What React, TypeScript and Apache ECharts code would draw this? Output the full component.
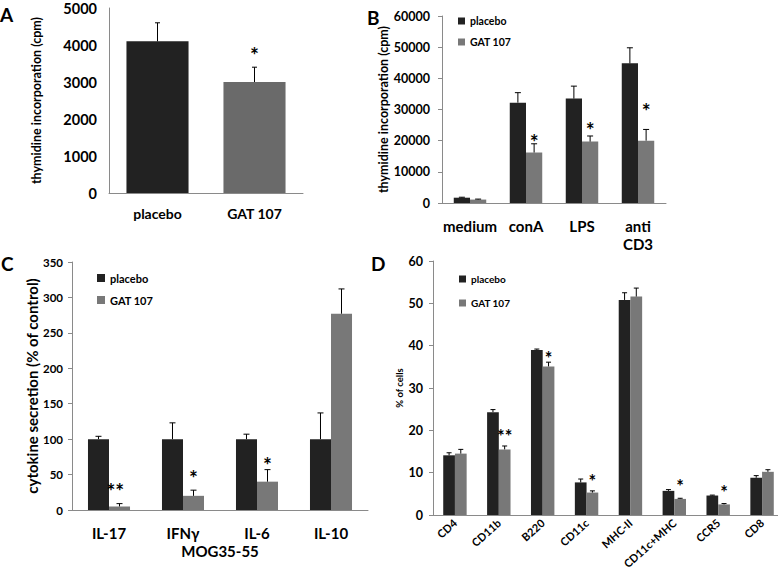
import React, { useEffect, useRef } from "react";
import * as echarts from "echarts";

// ---------- data ----------
const catsA = ["placebo", "GAT 107"];
const valsA = [4100, 3000];
const errA = [500, 400];
const starsA = [{ cat: 1, side: 0, y: 3870, text: "*" }];

const catsB = ["medium", "conA", "LPS", "anti\nCD3"];
const placeboB = [1700, 32200, 33500, 44800];
const placeboErrB = [150, 3200, 4000, 5000];
const gatB = [1100, 16200, 19700, 20000];
const gatErrB = [150, 2800, 1800, 3600];
const starsB = [
  { cat: 1, side: 1, y: 21200, text: "*" },
  { cat: 2, side: 1, y: 25000, text: "*" },
  { cat: 3, side: 1, y: 31100, text: "*" },
];

const catsC = ["IL-17", "IFNγ", "IL-6", "IL-10"];
const placeboC = [100, 100, 100, 100];
const placeboErrC = [4, 23, 7, 37];
const gatC = [5, 20, 40, 277];
const gatErrC = [4, 8, 17, 35];
const starsC = [
  { cat: 0, side: 0.6, y: 34, text: "**" },
  { cat: 1, side: 1, y: 53, text: "*" },
  { cat: 2, side: 1, y: 71, text: "*" },
];

const catsD = ["CD4", "CD11b", "B220", "CD11c", "MHC-II", "CD11c+MHC", "CCR5", "CD8"];
const placeboD = [14.1, 24.3, 39.0, 7.7, 50.8, 5.7, 4.6, 8.8];
const placeboErrD = [0.6, 0.6, 0.2, 0.8, 1.7, 0.3, 0.1, 0.5];
const gatD = [14.5, 15.5, 35.1, 5.3, 51.6, 3.8, 2.5, 10.2];
const gatErrD = [1.0, 0.8, 1.0, 0.4, 2.0, 0.15, 0.2, 0.5];
const starsD = [
  { cat: 1, side: 1, y: 19.6, text: "**" },
  { cat: 2, side: 1, y: 38.0, text: "*" },
  { cat: 3, side: 1, y: 8.9, text: "*" },
  { cat: 5, side: 1, y: 7.8, text: "*" },
  { cat: 6, side: 1, y: 6.4, text: "*" },
];

// ---------- styling ----------
const FONT = "Lato";
const DARK = "#222222";
const GREY = "#787878";
const GREY_A = "#6a6a6a";
const AXIS = "#8a8a8a";

function errRenderer(frac: number, cap: number) {
  return (params: any, api: any) => {
    const cat = api.value(0);
    const val = api.value(1);
    const err = api.value(2);
    const side = api.value(3);
    const base = api.coord([cat, val]);
    const top = api.coord([cat, val + err]);
    const cw = api.size([1, 0])[0];
    const x = base[0] + (side * cw * frac) / 2;
    const st = { stroke: "#000", lineWidth: 1 };
    return {
      type: "group",
      children: [
        { type: "line", shape: { x1: x, y1: base[1], x2: x, y2: top[1] }, style: st },
        { type: "line", shape: { x1: x - cap, y1: top[1], x2: x + cap, y2: top[1] }, style: st },
      ],
    };
  };
}

function starRenderer(frac: number, stars: any[], size: number) {
  return (params: any, api: any) => {
    const s = stars[params.dataIndex];
    const p = api.coord([s.cat, s.y]);
    const cw = api.size([1, 0])[0];
    const x = p[0] + (s.side * cw * frac) / 2;
    return {
      type: "text",
      x,
      y: p[1] + size * 0.22,
      style: {
        text: s.text,
        align: "center",
        verticalAlign: "middle",
        fontSize: size,
        fontWeight: "bold",
        fontFamily: FONT,
        fill: "#000",
      },
    };
  };
}

function errData(vals: number[], errs: number[], side: number) {
  return vals.map((v, i) => [i, v, errs[i], side]);
}

function yAxis(grid: number, max: number, interval: number, size: number, margin: number, ticks: boolean, name: string, nameSize: number, nameGap: number) {
  return {
    type: "value",
    gridIndex: grid,
    min: 0,
    max,
    interval,
    splitLine: { show: false },
    axisLine: { show: true, lineStyle: { color: AXIS, width: 1 } },
    axisTick: { show: ticks, length: 4, lineStyle: { color: AXIS } },
    axisLabel: {
      color: "#000",
      fontSize: size,
      fontWeight: "bold",
      fontFamily: FONT,
      margin,
      formatter: (v: number) => String(v),
    },
    name,
    nameLocation: "middle",
    nameGap,
    nameTextStyle: { color: "#000", fontSize: nameSize, fontWeight: "bold", fontFamily: FONT },
  };
}

function xAxis(grid: number, data: string[], size: number, margin: number, extra: any = {}) {
  return {
    type: "category",
    gridIndex: grid,
    data,
    axisLine: { show: true, lineStyle: { color: AXIS, width: 1 } },
    axisTick: { show: false },
    axisLabel: { color: "#000", fontSize: size, fontWeight: "bold", fontFamily: FONT, margin, interval: 0, lineHeight: 18, ...(extra.label || {}) },
  };
}

function legend(left: number, top: number, gap: number, size: number, icon: number) {
  return {
    data: ["placebo", "GAT 107"],
    orient: "vertical",
    left,
    top,
    itemGap: gap,
    itemWidth: icon,
    itemHeight: icon,
    itemTextGap: 3,
    icon: "rect",
    padding: 0,
    textStyle: { color: "#000", fontSize: size, fontWeight: "bold", fontFamily: FONT, lineHeight: 12 },
  };
}

const FR_A = 0.64;
const FR_B = 0.29;
const FR_C = 0.284;
const FR_D = 0.267;

function buildOption() {
  const letter = (t: string, x: number, y: number) => ({
    type: "text",
    x,
    y,
    style: { text: t, fontSize: 19, fontWeight: "bold", fontFamily: FONT, fill: "#000" },
  });
  const g = (left: number, top: number, width: number, height: number) => ({
    left,
    top,
    width,
    height,
    containLabel: false,
    outerBoundsMode: "none",
  });
  return {
    animation: false,
    backgroundColor: "#fff",
    textStyle: { fontFamily: FONT },
    grid: [g(109, 8, 194, 185), g(442, 16, 224, 187), g(72, 262, 296, 248), g(433, 261, 351, 254)],
    xAxis: [
      xAxis(0, catsA, 14, 11),
      xAxis(1, catsB, 15, 14),
      {
        ...xAxis(2, catsC, 15, 14),
        name: "MOG35-55",
        nameLocation: "middle",
        nameGap: 33,
        nameTextStyle: { color: "#000", fontSize: 15, fontWeight: "bold", fontFamily: FONT },
      },
      xAxis(3, catsD, 11, 6, { label: { rotate: 42 } }),
    ],
    yAxis: [
      yAxis(0, 5000, 1000, 14.5, 12, false, "thymidine incorporation (cpm)", 12.5, 66),
      yAxis(1, 60000, 10000, 12.5, 12, true, "thymidine incorporation (cpm)", 12.5, 51),
      yAxis(2, 350, 50, 11.5, 9, true, "cytokine secretion (% of control)", 15, 28),
      yAxis(3, 60, 10, 12.5, 10, true, "% of cells", 9.5, 28),
    ],
    legend: [legend(458, 15, 9, 10.5, 7), legend(97, 272, 10, 11, 8), legend(459, 273, 12, 10, 7)],
    series: [
      {
        name: "A",
        type: "bar",
        xAxisIndex: 0,
        yAxisIndex: 0,
        barWidth: "64%",
        data: valsA.map((v, i) => ({ value: v, itemStyle: { color: i === 0 ? DARK : GREY_A } })),
      },
      { type: "custom", xAxisIndex: 0, yAxisIndex: 0, renderItem: errRenderer(FR_A, 2.5), data: errData(valsA, errA, 0), z: 5 },
      { type: "custom", xAxisIndex: 0, yAxisIndex: 0, renderItem: starRenderer(FR_A, starsA, 21), data: starsA.map((s) => [s.cat, s.y]), z: 5 },

      { name: "placebo", type: "bar", xAxisIndex: 1, yAxisIndex: 1, barWidth: "29%", barGap: "0%", itemStyle: { color: DARK }, data: placeboB },
      { name: "GAT 107", type: "bar", xAxisIndex: 1, yAxisIndex: 1, barWidth: "29%", barGap: "0%", itemStyle: { color: GREY }, data: gatB },
      { type: "custom", xAxisIndex: 1, yAxisIndex: 1, renderItem: errRenderer(FR_B, 3), data: [...errData(placeboB, placeboErrB, -1), ...errData(gatB, gatErrB, 1)], z: 5 },
      { type: "custom", xAxisIndex: 1, yAxisIndex: 1, renderItem: starRenderer(FR_B, starsB, 21), data: starsB.map((s) => [s.cat, s.y]), z: 5 },

      { name: "placebo", type: "bar", xAxisIndex: 2, yAxisIndex: 2, barWidth: "28.4%", barGap: "0%", itemStyle: { color: DARK }, data: placeboC },
      { name: "GAT 107", type: "bar", xAxisIndex: 2, yAxisIndex: 2, barWidth: "28.4%", barGap: "0%", itemStyle: { color: GREY }, data: gatC },
      { type: "custom", xAxisIndex: 2, yAxisIndex: 2, renderItem: errRenderer(FR_C, 3), data: [...errData(placeboC, placeboErrC, -1), ...errData(gatC, gatErrC, 1)], z: 5 },
      { type: "custom", xAxisIndex: 2, yAxisIndex: 2, renderItem: starRenderer(FR_C, starsC, 21), data: starsC.map((s) => [s.cat, s.y]), z: 5 },

      { name: "placebo", type: "bar", xAxisIndex: 3, yAxisIndex: 3, barWidth: "26.7%", barGap: "0%", itemStyle: { color: DARK }, data: placeboD },
      { name: "GAT 107", type: "bar", xAxisIndex: 3, yAxisIndex: 3, barWidth: "26.7%", barGap: "0%", itemStyle: { color: GREY }, data: gatD },
      { type: "custom", xAxisIndex: 3, yAxisIndex: 3, renderItem: errRenderer(FR_D, 2.5), data: [...errData(placeboD, placeboErrD, -1), ...errData(gatD, gatErrD, 1)], z: 5 },
      { type: "custom", xAxisIndex: 3, yAxisIndex: 3, renderItem: starRenderer(FR_D, starsD, 18), data: starsD.map((s) => [s.cat, s.y]), z: 5 },
    ],
    graphic: [letter("A", 0, 5), letter("B", 367, 8), letter("C", 1, 254), letter("D", 371, 254)],
  };
}

export default function App() {
  const ref = useRef<HTMLDivElement>(null);
  useEffect(() => {
    if (!ref.current) return;
    const chart = echarts.init(ref.current, undefined, { renderer: "svg" });
    chart.setOption(buildOption() as any);
    return () => chart.dispose();
  }, []);
  return (
    <div
      ref={ref}
      style={{ position: "fixed", left: 0, top: 0, width: 778, height: 569, background: "#fff" }}
    />
  );
}
